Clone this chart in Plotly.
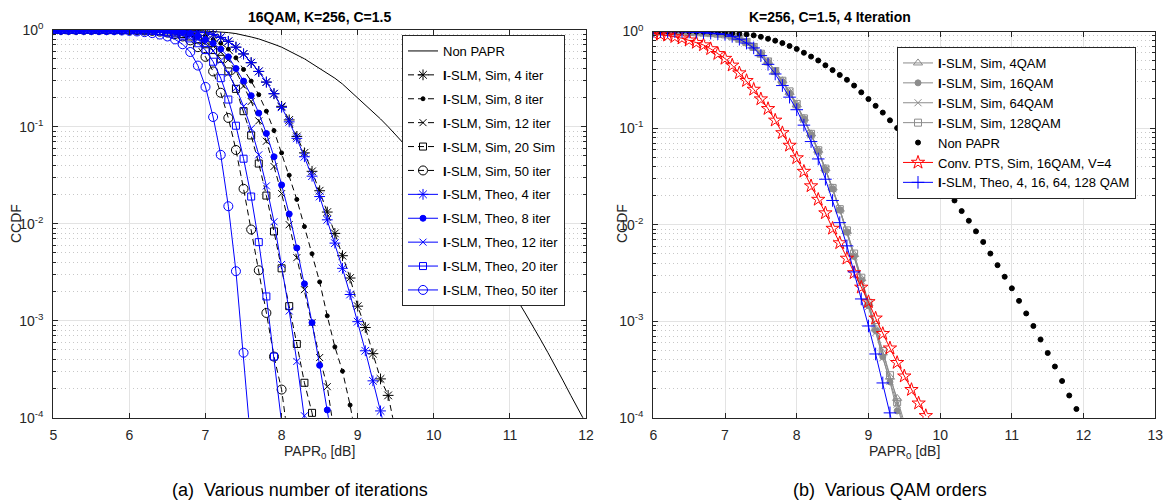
import plotly.graph_objects as go

# ---------------- data (CCDF values stored as log10 exponents) ----------------
# Left panel: PAPR0 grid in dB (0.1 dB steps)
papr_left = [5.0, 5.1, 5.2, 5.3, 5.4, 5.5, 5.6, 5.7, 5.8, 5.9,
             6.0, 6.1, 6.2, 6.3, 6.4, 6.5, 6.6, 6.7, 6.8, 6.9,
             7.0, 7.1, 7.2, 7.3, 7.4, 7.5, 7.6, 7.7, 7.8, 7.9,
             8.0, 8.1, 8.2, 8.3, 8.4, 8.5, 8.6, 8.7, 8.8, 8.9,
             9.0, 9.1, 9.2, 9.3, 9.4, 9.5]

sim4_log = [0, 0, 0, 0, 0, 0, 0, 0, 0, 0,
            0, 0, 0, 0, 0, -0.005, -0.008, -0.012, -0.017, -0.023,
            -0.03, -0.05, -0.08, -0.12, -0.18, -0.25, -0.34, -0.43, -0.54, -0.66,
            -0.79, -0.93, -1.10, -1.27, -1.46, -1.66, -1.88, -2.10, -2.33, -2.56,
            -2.85, -3.07, -3.34, -3.60, -3.77, -4.15]
sim8_log = [0, 0, 0, 0, 0, 0, 0, 0, 0, 0,
            0, 0, 0, -0.003, -0.005, -0.008, -0.012, -0.02, -0.03, -0.05,
            -0.07, -0.10, -0.14, -0.20, -0.29, -0.41, -0.53, -0.67, -0.84, -1.04,
            -1.27, -1.50, -1.75, -2.03, -2.31, -2.60, -2.95, -3.27, -3.52, -3.87,
            -4.30]
sim12_log = [0, 0, 0, 0, 0, 0, 0, 0, 0, 0,
             0, 0, 0, -0.005, -0.008, -0.013, -0.02, -0.035, -0.05, -0.08,
             -0.12, -0.17, -0.23, -0.31, -0.43, -0.58, -0.74, -0.94, -1.15, -1.41,
             -1.69, -2.01, -2.35, -2.68, -3.02, -3.38, -3.68, -4.20]
sim20_log = [0, 0, 0, 0, 0, 0, 0, 0, 0, 0,
             0, 0, -0.005, -0.008, -0.013, -0.02, -0.03, -0.045, -0.07, -0.10,
             -0.15, -0.21, -0.30, -0.43, -0.61, -0.84, -1.09, -1.38, -1.71, -2.08,
             -2.46, -2.85, -3.24, -3.64, -3.95, -4.40]
sim50_log = [0, 0, 0, 0, 0, 0, 0, 0, 0, 0,
             -0.003, -0.005, -0.008, -0.012, -0.02, -0.03, -0.045, -0.07, -0.11, -0.18,
             -0.28, -0.43, -0.65, -0.91, -1.24, -1.64, -2.06, -2.48, -2.92, -3.37,
             -3.71, -4.30]

theo4_log = [0, 0, 0, 0, 0, 0, 0, 0, 0, 0,
             0, 0, 0, 0, 0, -0.005, -0.008, -0.012, -0.017, -0.023,
             -0.03, -0.05, -0.08, -0.12, -0.18, -0.25, -0.34, -0.43, -0.54, -0.66,
             -0.80, -0.95, -1.12, -1.31, -1.51, -1.72, -1.96, -2.20, -2.46, -2.73,
             -3.01, -3.31, -3.62, -3.93, -4.25]
theo8_log = [0, 0, 0, 0, 0, 0, 0, 0, 0, 0,
             0, 0, 0, -0.003, -0.005, -0.01, -0.015, -0.025, -0.04, -0.065,
             -0.10, -0.14, -0.20, -0.28, -0.40, -0.53, -0.68, -0.86, -1.07, -1.31,
             -1.60, -1.90, -2.25, -2.62, -3.02, -3.46, -3.92, -4.40]
theo12_log = [0, 0, 0, 0, 0, 0, 0, 0, 0, 0,
              0, 0, -0.003, -0.006, -0.01, -0.018, -0.03, -0.05, -0.07, -0.10,
              -0.14, -0.22, -0.32, -0.45, -0.60, -0.79, -1.02, -1.29, -1.61, -1.98,
              -2.42, -2.90, -3.42, -3.98, -4.60]
theo20_log = [0, 0, 0, 0, 0, 0, 0, 0, 0, 0,
              -0.003, -0.005, -0.008, -0.012, -0.018, -0.027, -0.04, -0.06, -0.09, -0.14,
              -0.21, -0.33, -0.50, -0.72, -0.99, -1.33, -1.72, -2.19, -2.75, -3.37,
              -4.05]
theo50_log = [0, 0, 0, 0, 0, -0.002, -0.003, -0.004, -0.005, -0.008,
              -0.012, -0.018, -0.025, -0.035, -0.05, -0.07, -0.10, -0.15, -0.23, -0.37,
              -0.59, -0.90, -1.29, -1.82, -2.49, -3.33, -4.30]

# Non-PAPR (original OFDM) CCDF, 5.0 .. 12.0 dB
papr_nonpapr = [5.0, 5.1, 5.2, 5.3, 5.4, 5.5, 5.6, 5.7, 5.8, 5.9,
                6.0, 6.1, 6.2, 6.3, 6.4, 6.5, 6.6, 6.7, 6.8, 6.9,
                7.0, 7.1, 7.2, 7.3, 7.4, 7.5, 7.6, 7.7, 7.8, 7.9,
                8.0, 8.1, 8.2, 8.3, 8.4, 8.5, 8.6, 8.7, 8.8, 8.9,
                9.0, 9.1, 9.2, 9.3, 9.4, 9.5, 9.6, 9.7, 9.8, 9.9,
                10.0, 10.1, 10.2, 10.3, 10.4, 10.5, 10.6, 10.7, 10.8, 10.9,
                11.0, 11.1, 11.2, 11.3, 11.4, 11.5, 11.6, 11.7, 11.8, 11.9, 12.0]
nonpapr_log = [0, 0, 0, 0, 0, 0, 0, 0, 0, 0,
               0, 0, 0, 0, 0, -0.001, -0.002, -0.003, -0.005, -0.008,
               -0.012, -0.017, -0.023, -0.03, -0.04, -0.055, -0.075, -0.095, -0.12, -0.15,
               -0.18, -0.22, -0.26, -0.30, -0.35, -0.40, -0.45, -0.50, -0.56, -0.63,
               -0.70, -0.77, -0.84, -0.92, -1.00, -1.08, -1.17, -1.26, -1.35, -1.45,
               -1.55, -1.65, -1.75, -1.86, -1.96, -2.07, -2.18, -2.30, -2.42, -2.54,
               -2.66, -2.79, -2.92, -3.05, -3.19, -3.33, -3.47, -3.62, -3.77, -3.91, -4.06]

# Right panel
papr_right = [6.0, 6.1, 6.2, 6.3, 6.4, 6.5, 6.6, 6.7, 6.8, 6.9,
              7.0, 7.1, 7.2, 7.3, 7.4, 7.5, 7.6, 7.7, 7.8, 7.9,
              8.0, 8.1, 8.2, 8.3, 8.4, 8.5, 8.6, 8.7, 8.8, 8.9,
              9.0, 9.1, 9.2, 9.3, 9.4, 9.5, 9.6, 9.7, 9.8]
qam4_log = [0, 0, 0, 0, 0, -0.005, -0.008, -0.012, -0.017, -0.023,
            -0.03, -0.05, -0.075, -0.11, -0.16, -0.23, -0.31, -0.41, -0.51, -0.63,
            -0.76, -0.90, -1.06, -1.23, -1.42, -1.62, -1.84, -2.07, -2.31, -2.56,
            -2.82, -3.08, -3.33, -3.58, -3.80, -4.05]
qam16_log = [0, 0, 0, 0, 0, -0.005, -0.008, -0.012, -0.017, -0.023,
             -0.03, -0.05, -0.077, -0.11, -0.165, -0.235, -0.32, -0.41, -0.52, -0.64,
             -0.77, -0.91, -1.07, -1.24, -1.43, -1.63, -1.85, -2.08, -2.33, -2.58,
             -2.84, -3.10, -3.37, -3.63, -3.93]
qam64_log = [0, 0, 0, 0, 0, -0.005, -0.008, -0.012, -0.017, -0.023,
             -0.03, -0.05, -0.076, -0.11, -0.16, -0.23, -0.31, -0.41, -0.52, -0.63,
             -0.76, -0.91, -1.07, -1.24, -1.43, -1.63, -1.85, -2.08, -2.33, -2.58,
             -2.85, -3.12, -3.38, -3.62, -3.86, -4.15]
qam128_log = [0, 0, 0, 0, 0, -0.005, -0.008, -0.012, -0.017, -0.023,
              -0.03, -0.05, -0.075, -0.11, -0.16, -0.23, -0.31, -0.41, -0.51, -0.62,
              -0.75, -0.90, -1.06, -1.23, -1.42, -1.62, -1.84, -2.06, -2.30, -2.55,
              -2.81, -3.06, -3.31, -3.56, -3.84, -4.10]
pts_log = [-0.02, -0.03, -0.04, -0.055, -0.07, -0.09, -0.115, -0.14, -0.18, -0.23,
           -0.28, -0.35, -0.43, -0.51, -0.60, -0.70, -0.80, -0.92, -1.05, -1.18,
           -1.31, -1.45, -1.60, -1.74, -1.88, -2.04, -2.19, -2.35, -2.50, -2.65,
           -2.80, -2.97, -3.13, -3.28, -3.43, -3.57, -3.71, -3.85, -3.98]
theo_qam_log = [0, 0, 0, 0, 0, -0.005, -0.008, -0.012, -0.017, -0.023,
                -0.03, -0.05, -0.08, -0.12, -0.17, -0.25, -0.34, -0.44, -0.56, -0.68,
                -0.81, -0.97, -1.14, -1.32, -1.53, -1.75, -1.98, -2.22, -2.49, -2.77,
                -3.05, -3.34, -3.64, -3.95, -4.27]

# ---------------- styling helpers ----------------
W, H = 1166, 504
AX = '#262626'
BLUE = '#0000ff'
GRAY = '#8c8c8c'
FONT = 'Liberation Sans, Arial, Helvetica, sans-serif'


def pw(v):
    return [10 ** e for e in v]


def px(x):
    return x / W


def py(y):
    return 1 - y / H


fig = go.Figure()

ISLM = '<b>I</b>-SLM'


def add(xs, ylog, name, color, symbol, size, dash, legend, xa, ya, mode='lines+markers', lw=1.0, mlw=1.0, mcolor=None):
    n = min(len(xs), len(ylog))
    fig.add_trace(go.Scatter(
        x=xs[:n], y=pw(ylog[:n]), name=name, mode=mode,
        line=dict(color=color, width=lw, dash=dash),
        marker=dict(symbol=symbol, size=size, color=mcolor or color,
                    line=dict(color=color, width=mlw)),
        legend=legend, xaxis=xa, yaxis=ya, legendgroup=name + legend))


# left panel
add(papr_nonpapr, nonpapr_log, 'Non PAPR', 'black', 'circle', 1, 'solid', 'legend', 'x', 'y', mode='lines')
sim_dash = '6px,4px'
add(papr_left, sim4_log, ISLM + ', Sim, 4 iter', 'black', 'asterisk-open', 9, sim_dash, 'legend', 'x', 'y')
add(papr_left, sim8_log, ISLM + ', Sim, 8 iter', 'black', 'circle', 4, sim_dash, 'legend', 'x', 'y')
add(papr_left, sim12_log, ISLM + ', Sim, 12 iter', 'black', 'x-thin-open', 7, sim_dash, 'legend', 'x', 'y')
add(papr_left, sim20_log, ISLM + ', Sim, 20 Sim', 'black', 'square-open', 7, sim_dash, 'legend', 'x', 'y')
add(papr_left, sim50_log, ISLM + ', Sim, 50 iter', 'black', 'circle-open', 9, sim_dash, 'legend', 'x', 'y')
add(papr_left, theo4_log, ISLM + ', Theo, 4 iter', BLUE, 'asterisk-open', 9, 'solid', 'legend', 'x', 'y')
add(papr_left, theo8_log, ISLM + ', Theo, 8 iter', BLUE, 'circle', 6, 'solid', 'legend', 'x', 'y')
add(papr_left, theo12_log, ISLM + ', Theo, 12 iter', BLUE, 'x-thin-open', 7, 'solid', 'legend', 'x', 'y')
add(papr_left, theo20_log, ISLM + ', Theo, 20 iter', BLUE, 'square-open', 7, 'solid', 'legend', 'x', 'y')
add(papr_left, theo50_log, ISLM + ', Theo, 50 iter', BLUE, 'circle-open', 9, 'solid', 'legend', 'x', 'y')

# right panel
add(papr_right, qam4_log, ISLM + ', Sim, 4QAM', GRAY, 'triangle-up-open', 8, 'solid', 'legend2', 'x2', 'y2')
add(papr_right, qam16_log, ISLM + ', Sim, 16QAM', GRAY, 'circle', 6, 'solid', 'legend2', 'x2', 'y2')
add(papr_right, qam64_log, ISLM + ', Sim, 64QAM', GRAY, 'x-thin-open', 7, 'solid', 'legend2', 'x2', 'y2')
add(papr_right, qam128_log, ISLM + ', Sim, 128QAM', GRAY, 'square-open', 7, 'solid', 'legend2', 'x2', 'y2')
add(papr_nonpapr, nonpapr_log, 'Non PAPR', 'black', 'circle', 5, 'solid', 'legend2', 'x2', 'y2', mode='markers')
add(papr_right, pts_log, 'Conv. PTS, Sim, 16QAM, V=4', '#ff0000', 'star-open', 10, 'solid', 'legend2', 'x2', 'y2')
add(papr_right, theo_qam_log, ISLM + ', Theo, 4, 16, 64, 128 QAM', BLUE, 'cross-thin-open', 9, 'solid', 'legend2', 'x2', 'y2')

# ---------------- axes ----------------
major_y = [1e-4, 1e-3, 1e-2, 1e-1, 1]
major_y_text = ['10<sup>-4</sup>', '10<sup>-3</sup>', '10<sup>-2</sup>', '10<sup>-1</sup>', '10<sup>0</sup>']
minor_y = [m * 10 ** e for e in (-4, -3, -2, -1) for m in range(2, 10)]

common_x = dict(showline=True, linecolor=AX, linewidth=1, mirror='ticks', ticks='inside',
                ticklen=5, tickcolor=AX, showgrid=True, gridcolor='#e3e3e3', zeroline=False,
                dtick=1, tick0=0, automargin=False, ticklabelstandoff=4,
                tickfont=dict(size=14, color=AX, family=FONT))
common_y = dict(type='log', range=[-4, 0], showline=True, linecolor=AX, linewidth=1, mirror='ticks',
                ticks='inside', ticklen=5, tickcolor=AX, showgrid=True, gridcolor='#e3e3e3',
                zeroline=False, tickmode='array', tickvals=major_y, ticktext=major_y_text,
                automargin=False, ticklabelstandoff=6,
                tickfont=dict(size=14, color=AX, family=FONT),
                minor=dict(tickmode='array', tickvals=minor_y, ticks='inside', ticklen=3,
                           tickcolor=AX, showgrid=True, gridcolor='#c8c8c8', griddash='1px,3px'))

y_dom_l = [py(417.7), py(29.7)]
y_dom_r = [py(417.7), py(31.5)]

fig.update_layout(
    template='none',
    width=W, height=H, margin=dict(l=0, r=0, t=0, b=0, pad=0), autosize=False,
    paper_bgcolor='white', plot_bgcolor='white',
    font=dict(family=FONT, color=AX),
    xaxis=dict(domain=[px(53.3), px(586)], range=[5, 12], anchor='y', **common_x),
    yaxis=dict(domain=y_dom_l, anchor='x', **common_y),
    xaxis2=dict(domain=[px(653.3), px(1155.3)], range=[6, 13], anchor='y2', **common_x),
    yaxis2=dict(domain=y_dom_r, anchor='x2', **common_y),
    legend=dict(x=px(402), y=py(35), xanchor='left', yanchor='top', bgcolor='white',
                bordercolor=AX, borderwidth=1, font=dict(size=13, color='black', family=FONT),
                tracegroupgap=4, entrywidth=123),
    legend2=dict(x=px(897), y=py(47), xanchor='left', yanchor='top', bgcolor='white',
                 bordercolor=AX, borderwidth=1, font=dict(size=13, color='black', family=FONT),
                 tracegroupgap=0),
)

ann = []
ann.append(dict(text='<b>16QAM, K=256, C=1.5</b>', x=px(319), y=py(17), xref='paper', yref='paper',
                showarrow=False, font=dict(size=14, color='black'), xanchor='center', yanchor='middle'))
ann.append(dict(text='<b>K=256, C=1.5, 4 Iteration</b>', x=px(830), y=py(17), xref='paper', yref='paper',
                showarrow=False, font=dict(size=14, color='black'), xanchor='center', yanchor='middle'))
for cx in (319.6, 904.3):
    ann.append(dict(text='PAPR<sub>0</sub> [dB]', x=px(cx), y=py(452), xref='paper', yref='paper',
                    showarrow=False, font=dict(size=14, color=AX), xanchor='center', yanchor='middle'))
for cx in (16, 622):
    ann.append(dict(text='CCDF', x=px(cx), y=py(224), xref='paper', yref='paper', textangle=-90,
                    showarrow=False, font=dict(size=14, color=AX), xanchor='center', yanchor='middle'))
ann.append(dict(text='(a)  Various number of iterations', x=px(300), y=py(490), xref='paper', yref='paper',
                showarrow=False, font=dict(size=18, color='black'), xanchor='center', yanchor='middle'))
ann.append(dict(text='(b)  Various QAM orders', x=px(890), y=py(490), xref='paper', yref='paper',
                showarrow=False, font=dict(size=18, color='black'), xanchor='center', yanchor='middle'))
fig.update_layout(annotations=ann)

fig.write_html('out.html', config={'displayModeBar': False},
               post_script="document.body.style.margin='0';document.body.style.overflow='hidden';")
